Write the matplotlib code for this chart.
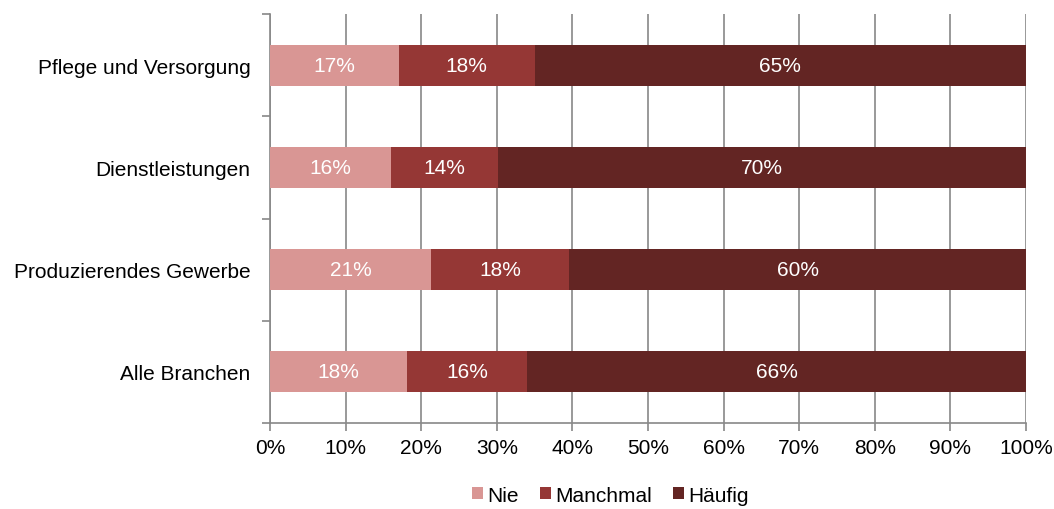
import numpy as np
from matplotlib import pyplot as plt

plt.rcParams['font.family'] = ['Liberation Sans', 'DejaVu Sans']

branchen = ['Alle Branchen', 'Produzierendes Gewerbe', 'Dienstleistungen', 'Pflege und Versorgung']
nie = [18.1, 21.3, 16.0, 17.0]
manchmal = [15.9, 18.3, 14.2, 18.0]
haeufig = [66.0, 60.4, 69.8, 65.0]
serien = ['Nie', 'Manchmal', 'Häufig']
farben = ['#D99694', '#953735', '#632523']

fig = plt.figure(figsize=(10.54, 5.10), dpi=100)
ax = fig.add_axes([0.2562, 0.1686, 0.7172, 0.802])

y = np.arange(len(branchen))
links = np.zeros(len(branchen))
for name, werte, farbe in zip(serien, [nie, manchmal, haeufig], farben):
    werte = np.array(werte)
    bars = ax.barh(y, werte, left=links, height=0.4, color=farbe, label=name, zorder=3)
    for b, w in zip(bars, werte):
        ax.text(b.get_x() + b.get_width() / 2, b.get_y() + b.get_height() / 2,
                f'{w:.0f}%', ha='center', va='center', color='white', fontsize=15, zorder=4)
    links += werte

ax.set_xlim(0, 100)
ax.set_ylim(-0.5, len(branchen) - 0.5)
ax.set_xticks(np.arange(0, 101, 10))
ax.set_xticklabels([f'{v}%' for v in range(0, 101, 10)])
ax.set_yticks(y)
ax.set_yticklabels(branchen)
ax.set_yticks(np.arange(-0.5, len(branchen), 1), minor=True)
ax.tick_params(axis='y', which='major', length=0, pad=14, labelsize=15)
ax.tick_params(axis='y', which='minor', length=6, color='#888888', width=1.2)
ax.tick_params(axis='x', length=6, color='#888888', width=1.2, labelsize=15, pad=5)
ax.grid(axis='x', color='#888888', linewidth=1.2, zorder=0)
for s in ['top', 'right']:
    ax.spines[s].set_visible(False)
for s in ['left', 'bottom']:
    ax.spines[s].set_color('#888888')
    ax.spines[s].set_linewidth(1.2)

fig.legend(loc='lower center', bbox_to_anchor=(0.579, -0.028), ncol=3, frameon=False,
           fontsize=15, handlelength=0.55, handleheight=0.55, handletextpad=0.2, columnspacing=1.0)

fig.savefig('out.png', dpi=100)
